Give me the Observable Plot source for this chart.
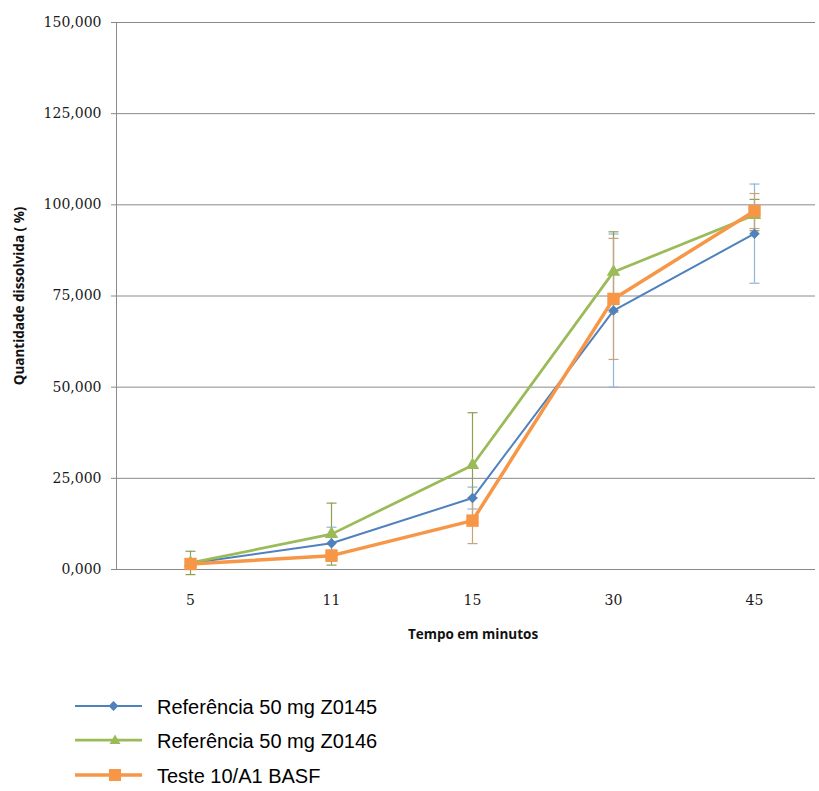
<!DOCTYPE html>
<html>
<head>
<meta charset="utf-8">
<script src="https://cdn.jsdelivr.net/npm/d3@7"></script>
<script src="https://cdn.jsdelivr.net/npm/@observablehq/plot@0.6"></script>
<style>
  body { margin: 0; background: #fff; }
  #wrap { position: relative; width: 819px; height: 791px; }
  #legend { position: absolute; left: 0; top: 690px; font-family: "Liberation Sans", Arial, sans-serif; font-size: 20px; color: #000; }
  .row { position: absolute; left: 0; height: 24px; white-space: nowrap; }
  .row svg { position: absolute; left: 70px; top: 2px; }
  .row span { position: absolute; left: 157px; top: 0; line-height: 24px; }
</style>
</head>
<body>
<div id="wrap">
  <div id="chart"></div>
  <div id="legend"></div>
</div>
<script>
// ---- data ----
const times = ["5", "11", "15", "30", "45"];
const seriesNames = ["Referência 50 mg Z0145", "Referência 50 mg Z0146", "Teste 10/A1 BASF"];
const ref45 = [1.7, 7.2, 19.6, 71.0, 92.1];
const ref45Err = [1.0, 4.4, 3.0, 21.0, 13.6];
const ref46 = [1.8, 9.7, 28.6, 81.6, 97.2];
const ref46Err = [3.2, 8.5, 14.4, 11.0, 4.3];
const teste = [1.5, 3.8, 13.4, 74.2, 98.3];
const testeErr = [1.2, 1.5, 6.3, 16.6, 4.8];
const yTicks = [0, 25, 50, 75, 100, 125, 150];
const yLabel = "Quantidade dissolvida ( %)";
const xLabel = "Tempo em minutos";

// ---- styles ----
const colors = ["#4F81BD", "#9BBB59", "#F79646"];
const errColors = ["#95B3D7", "#8E9F55", "#C9A27E"];
const lineWidths = [2, 2.75, 3.5];

const valuesList = [ref45, ref46, teste];
const errList = [ref45Err, ref46Err, testeErr];
const data = seriesNames.map((name, i) =>
  times.map((t, j) => ({ series: name, idx: i, t, v: valuesList[i][j], e: errList[i][j] }))
);

const fmt = v => d3.format(".3f")(v).replace(".", ",");
const tickFont = "'DejaVu Serif', serif";
const titleFont = "'Open Sans', sans-serif";

// horizontal cap symbol for error bars
const capSymbol = { draw(ctx) { ctx.moveTo(-5, 0); ctx.lineTo(5, 0); } };

const marks = [
  Plot.ruleY(yTicks, { stroke: "#8a8a8a", strokeWidth: 1 }),
  Plot.frame({ anchor: "left", stroke: "#8a8a8a" }),
  Plot.axisY({ ticks: yTicks, tickSize: 5, tickPadding: 10, tickFormat: fmt, stroke: "#8a8a8a",
    fontFamily: tickFont, fontSize: 14, fill: "#1a1a1a", label: null }),
  Plot.axisX({ tickSize: 0, tickPadding: 26, fontFamily: tickFont, fontSize: 14, fill: "#1a1a1a", label: null }),
  Plot.text([yLabel], { frameAnchor: "left", textAnchor: "middle", lineAnchor: "middle", rotate: -90, dx: -97, fontFamily: titleFont, fontWeight: "bold", fontSize: 13.5, fill: "#111" }),
  Plot.text([xLabel], { frameAnchor: "bottom", textAnchor: "middle", lineAnchor: "middle", dy: 65, dx: 7, fontFamily: titleFont, fontWeight: "bold", fontSize: 13.5, fill: "#111" })
];

// error bars
data.forEach((d, i) => {
  marks.push(Plot.ruleX(d, { x: "t", y1: r => r.v - r.e, y2: r => r.v + r.e, stroke: errColors[i], strokeWidth: 1.2 }));
  marks.push(Plot.dot(d, { x: "t", y: r => r.v + r.e, symbol: capSymbol, stroke: errColors[i], strokeWidth: 1.2, fill: "none" }));
  marks.push(Plot.dot(d, { x: "t", y: r => r.v - r.e, symbol: capSymbol, stroke: errColors[i], strokeWidth: 1.2, fill: "none" }));
});
// lines
data.forEach((d, i) => {
  marks.push(Plot.line(d, { x: "t", y: "v", stroke: colors[i], strokeWidth: lineWidths[i] }));
});
// markers
marks.push(Plot.dot(data[0], { x: "t", y: "v", symbol: "square", rotate: 45, r: 4.2, fill: colors[0] }));
marks.push(Plot.dot(data[1], { x: "t", y: "v", symbol: "triangle", r: 5, fill: colors[1] }));
marks.push(Plot.dot(data[2], { x: "t", y: "v", symbol: "square", r: 7, fill: colors[2] }));

const chart = Plot.plot({
  width: 819,
  height: 660,
  marginLeft: 116,
  marginRight: 4,
  marginTop: 22,
  marginBottom: 91,
  style: { background: "#fff", overflow: "visible" },
  x: { type: "point", domain: times, range: [188, 755], padding: 0, axis: null },
  y: { domain: [0, 150], axis: null },
  marks
});
document.getElementById("chart").appendChild(chart);

// legend
const legend = document.getElementById("legend");
const symSvg = [
  '<rect x="40" y="5.5" width="7" height="7" transform="rotate(45 43.5 9)" fill="' + colors[0] + '"/>',
  '<path d="M45,3.5 L50.5,13 L39.5,13 Z" fill="' + colors[1] + '"/>',
  '<rect x="39" y="3" width="12" height="12" fill="' + colors[2] + '"/>'
];
const rowY = [707, 741, 776];
seriesNames.forEach((name, i) => {
  const row = document.createElement("div");
  row.className = "row";
  row.style.top = (rowY[i] - 690 - 12) + "px";
  row.innerHTML = '<svg width="80" height="20" viewBox="0 0 80 20"><line x1="5" x2="72" y1="9" y2="9" stroke="' + colors[i] +
    '" stroke-width="' + lineWidths[i] + '"/>' + symSvg[i] + '</svg><span>' + name + '</span>';
  legend.appendChild(row);
});
</script>
</body>
</html>
